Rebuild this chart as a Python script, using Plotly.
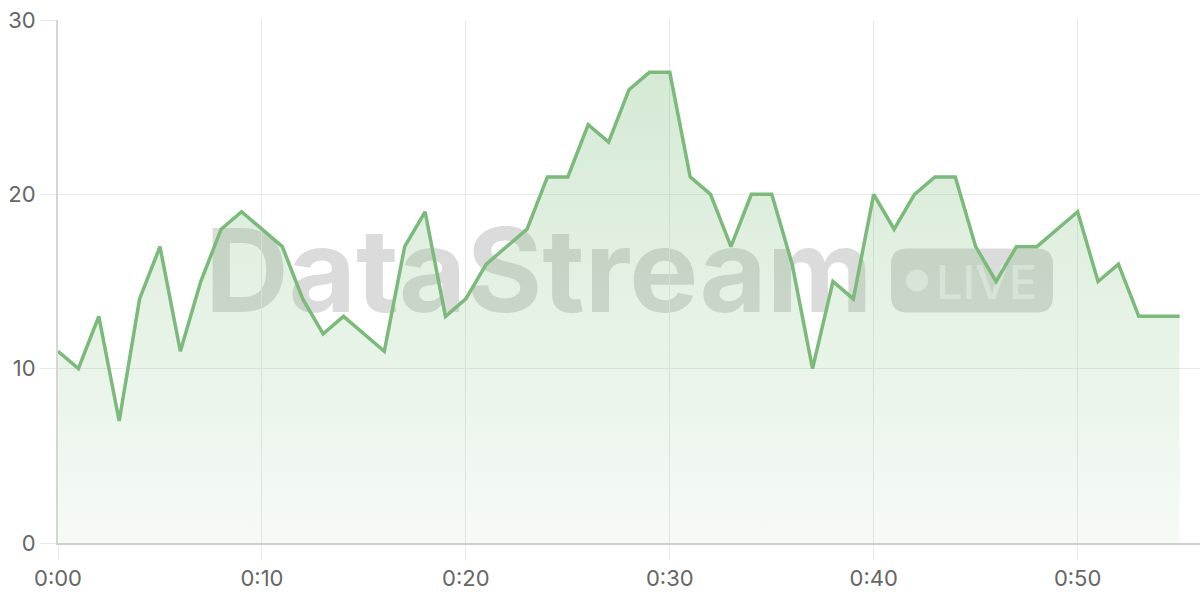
import plotly.graph_objects as go

# one reading per minute, 0:00 .. 0:55
minutes = list(range(0, 56))
values = [11, 10, 13, 7, 14, 17, 11, 15, 18, 19,
          18, 17, 14, 12, 13, 12, 11, 17, 19, 13,
          14, 16, 17, 18, 21, 21, 24, 23, 26, 27,
          27, 21, 20, 17, 20, 20, 16, 10, 15, 14,
          20, 18, 20, 21, 21, 17, 15, 17, 17, 18,
          19, 15, 16, 13, 13, 13]
tick_vals = [0, 10, 20, 30, 40, 50]
tick_text = ["0:00", "0:10", "0:20", "0:30", "0:40", "0:50"]

green = "rgb(122,187,122)"
grid = "#e9e9e9"

fig = go.Figure()
fig.add_trace(go.Scatter(
    x=minutes, y=values, mode="lines",
    line=dict(color=green, width=3.5),
    fill="tozeroy",
    fillgradient=dict(type="vertical", start=0, stop=max(values),
                      colorscale=[[0, "rgba(122,187,122,0.07)"],
                                  [1, "rgba(122,187,122,0.32)"]]),
    hoverinfo="skip", showlegend=False,
))

# watermark, kept under the line
wm = "rgba(0,0,0,0.14)"
fig.add_shape(type="rect", layer="between", xref="paper", yref="paper",
              x0=0.131, x1=0.711, y0=0.448, y1=0.61,
              line=dict(width=0), fillcolor="rgba(255,255,255,0)",
              label=dict(text="<b>DataStream</b>", textposition="middle center",
                         font=dict(family="Inter", size=116, color=wm)))
fig.add_shape(type="path", layer="between", xref="paper", yref="paper",
              xsizemode="pixel", ysizemode="pixel", xanchor=0.5, yanchor=0.5,
              path="M 278 33 L 408 33 Q 424 33 424 17 L 424 -15 Q 424 -31 408 -31 "
                   "L 278 -31 Q 262 -31 262 -15 L 262 17 Q 262 33 278 33 Z",
              line=dict(width=0), fillcolor=wm)
fig.add_shape(type="circle", layer="between", xref="paper", yref="paper",
              xsizemode="pixel", ysizemode="pixel", xanchor=0.5, yanchor=0.5,
              x0=277, x1=299, y0=-10, y1=12,
              line=dict(width=0), fillcolor="rgba(255,255,255,0.55)")
fig.add_shape(type="rect", layer="between", xref="paper", yref="paper",
              x0=0.7706, x1=0.8555, y0=0.47, y1=0.535,
              line=dict(width=0), fillcolor="rgba(255,255,255,0)",
              label=dict(text="LIVE", textposition="middle center",
                         font=dict(family="Inter", size=47, weight=500,
                                   color="rgba(255,255,255,0.55)")))

fig.update_layout(
    width=1200, height=600,
    margin=dict(l=58, r=0, t=20, b=57),
    paper_bgcolor="white", plot_bgcolor="white",
    font=dict(family="Inter", size=22, color="#666"),
    hovermode=False,
    xaxis=dict(range=[0, 56], tickvals=tick_vals, ticktext=tick_text,
               showgrid=True, gridcolor=grid, gridwidth=1,
               ticks="outside", ticklen=15, tickcolor=grid,
               showline=True, linecolor="#cfcfcf", linewidth=2,
               zeroline=False, fixedrange=True, automargin=False),
    yaxis=dict(range=[0, 30], dtick=10,
               showgrid=True, gridcolor=grid, gridwidth=1,
               ticks="outside", ticklen=16, tickcolor=grid,
               showline=True, linecolor="#d6d6d6", linewidth=2,
               zeroline=False, fixedrange=True, automargin=False),
)

# drop the page's default 8px body margin so the figure sits at 0,0
fig.write_html("out.html", config={"displayModeBar": False},
               post_script="document.body.style.margin='0px';")
